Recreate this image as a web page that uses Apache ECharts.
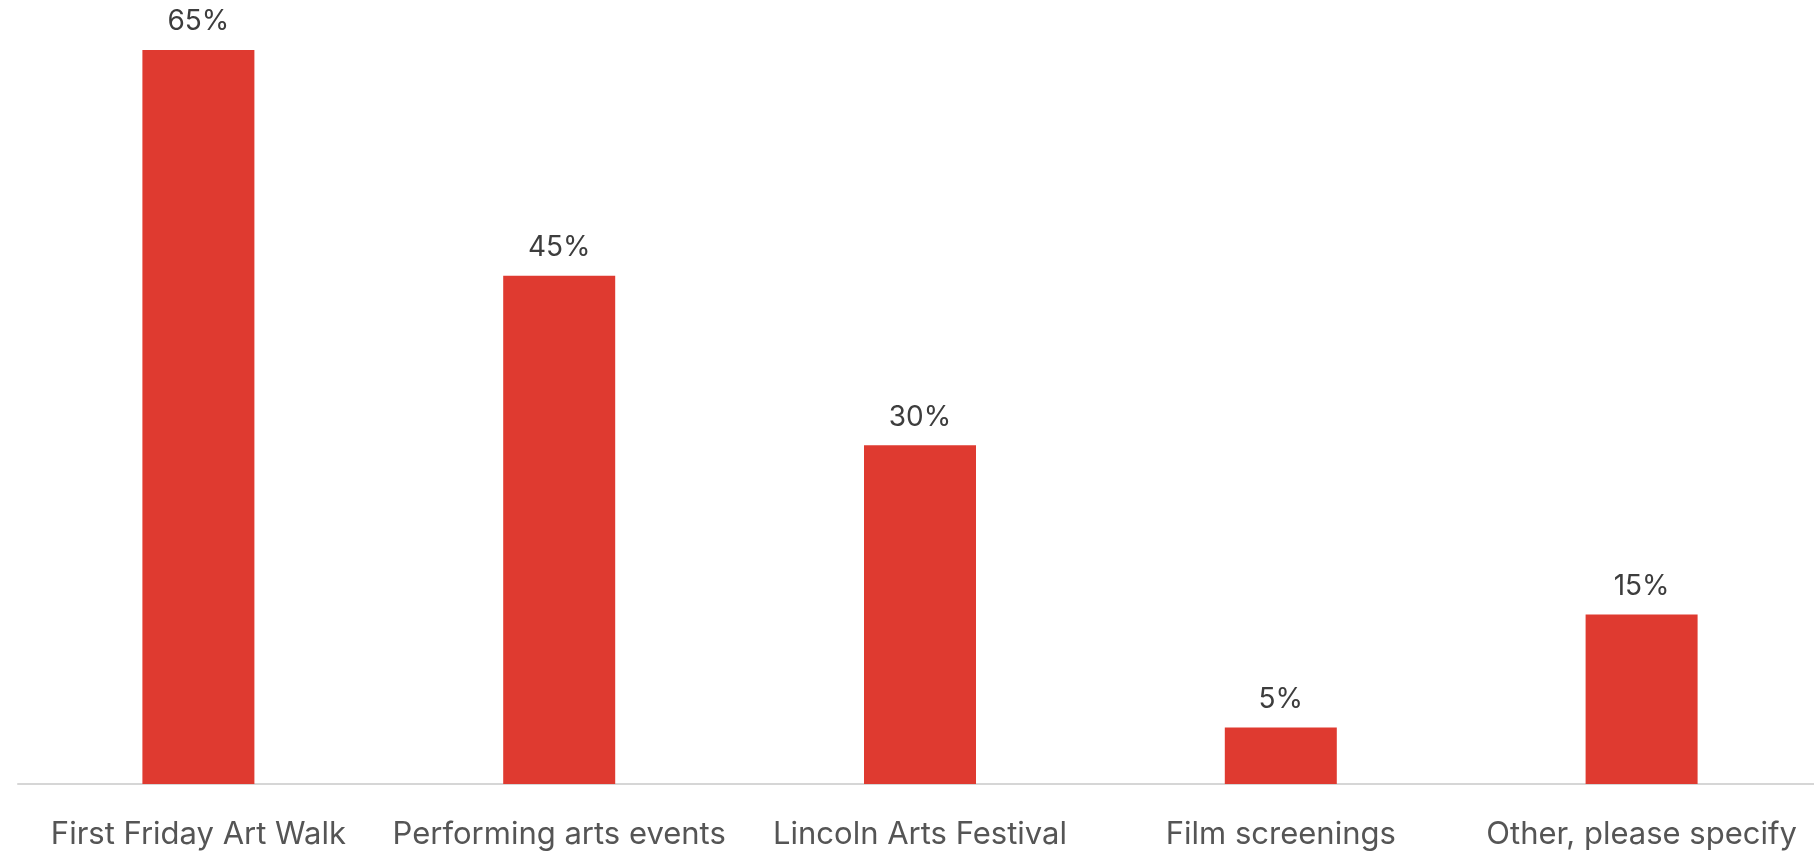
<!DOCTYPE html>
<html>
<head>
<meta charset="utf-8">
<script src="https://cdn.jsdelivr.net/npm/echarts@6/dist/echarts.min.js"></script>
<style>
  html, body { margin: 0; padding: 0; background: #fff; overflow: hidden; }
  /* a bit wider than the window: the plot runs off the right edge in the original */
  #chart { width: 1822px; height: 854px; }
</style>
</head>
<body>
<div id="chart"></div>
<script>
// categories + percentages
const categories = ['First Friday Art Walk', 'Performing arts events', 'Lincoln Arts Festival', 'Film screenings', 'Other, please specify'];
const shares = [65, 45, 30, 5, 15];

const chart = echarts.init(document.getElementById('chart'));

const option = {
  backgroundColor: '#ffffff',
  animation: false,
  grid: {
    left: 18,
    right: 0,
    top: 50,
    bottom: 70
  },
  xAxis: {
    type: 'category',
    data: categories,
    axisLine: { lineStyle: { color: '#d6d6d6', width: 2 } },
    axisTick: { show: false },
    axisLabel: {
      color: '#555555',
      fontFamily: 'Inter',
      fontSize: 31,
      margin: 35,
      interval: 0
    }
  },
  yAxis: {
    type: 'value',
    min: 0,
    max: 65,
    show: false,
    splitLine: { show: false }
  },
  series: [{
    type: 'bar',
    data: shares,
    barWidth: 112,
    itemStyle: { color: '#df3a30' },
    label: {
      show: true,
      position: 'top',
      distance: 14,
      formatter: '{c}%',
      color: '#3d3d3d',
      fontFamily: 'Inter',
      fontSize: 28
    }
  }]
};

chart.setOption(option);
</script>
</body>
</html>
